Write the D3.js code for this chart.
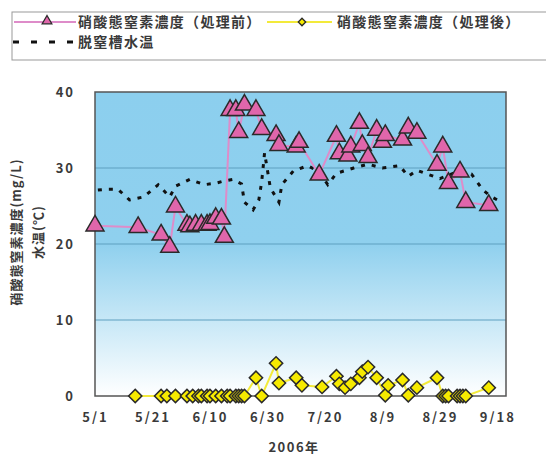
<!DOCTYPE html>
<html><head><meta charset="utf-8">
<script src="https://cdn.jsdelivr.net/npm/d3@7"></script>
<style>
body{margin:0;background:#fff}
svg{display:block}
text{font-family:"Noto Sans CJK JP","Noto Sans",sans-serif;fill:#3a3a3a;font-weight:700}
</style>
</head><body><svg id="c" width="546" height="457"></svg>
<script>
// ---- data ----
const seriesNames = ["硝酸態窒素濃度（処理前）", "硝酸態窒素濃度（処理後）", "脱窒槽水温"];
const beforeDates = ["5/1","5/16","5/24","5/27","5/29","6/2","6/3","6/5","6/7","6/9","6/10","6/12","6/14","6/15","6/17","6/19","6/20","6/22","6/26","6/28","7/3","7/4","7/10","7/11","7/18","7/24","7/25","7/28","7/29","8/1","8/2","8/4","8/7","8/9","8/10","8/16","8/18","8/21","8/28","8/30","9/1","9/5","9/7","9/15"];
const beforeValues = [22.4,22.2,21.2,19.6,24.9,22.5,22.3,22.5,22.5,22.5,22.6,23.4,23.3,20.9,37.6,37.6,34.7,38.3,37.6,35.1,34.3,33.0,32.8,33.4,29.1,34.2,31.9,31.6,32.8,35.9,33.0,31.4,35.0,33.4,34.3,33.7,35.3,34.6,30.4,32.8,28.0,29.5,25.5,25.1];
const afterDates = ["5/15","5/24","5/26","5/29","6/2","6/4","6/6","6/7","6/9","6/10","6/12","6/14","6/16","6/17","6/19","6/20","6/21","6/22","6/26","6/28","7/3","7/4","7/10","7/12","7/19","7/24","7/25","7/27","7/29","8/1","8/2","8/4","8/7","8/10","8/11","8/16","8/18","8/21","8/28","8/30","8/31","9/1","9/4","9/5","9/6","9/7","9/15"];
const afterValues = [0,0,0,0,0,0,0,0,0,0,0,0,0,0,0,0,0,0,2.4,0,4.3,1.7,2.4,1.4,1.2,2.6,1.6,1.1,1.6,2.4,3.2,3.8,2.4,0.1,1.4,2.1,0.1,1.1,2.4,0,0,0,0,0,0,0,1.1];
const tempDates = ["5/2","5/5","5/9","5/13","5/18","5/23","5/27","5/29","6/3","6/8","6/12","6/15","6/18","6/21","6/22","6/25","6/27","6/28","6/29","6/30","7/1","7/4","7/5","7/9","7/14","7/18","7/21","7/24","7/30","8/4","8/9","8/15","8/18","8/21","8/29","9/4","9/9","9/13","9/16","9/20"];
const tempValues = [27.1,27.2,27.2,25.8,26.2,27.8,26.2,27.6,28.5,27.8,28.0,28.3,28.5,27.9,25.5,24.5,25.8,28.2,32.0,29.7,27.4,25.5,27.8,29.6,30.3,29.5,27.8,29.3,30.0,30.5,30.0,30.3,28.9,29.7,28.6,29.5,29.2,27.1,26.2,25.4];
const xTickLabels = ["5/1","5/21","6/10","6/30","7/20","8/9","8/29","9/18"];
const xDomain = ["5/1","9/21"];
const yTicks = [0,10,20,30,40];
const yTitle = ["硝酸態窒素濃度(mg/L)", "水温(℃)"];
const xTitle = "2006年";

// ---- helpers ----
const parse = s => { const [m,d] = s.split("/").map(Number); return new Date(2006, m-1, d); };
const zip = (ds, vs) => ds.map((d,i) => ({date: parse(d), v: vs[i]}));
const before = zip(beforeDates, beforeValues);
const after = zip(afterDates, afterValues);
const temp = zip(tempDates, tempValues);

const svg = d3.select("#c");
const L = 95, R = 506, T = 92, B = 396;
const x = d3.scaleTime().domain(xDomain.map(parse)).range([L, R]);
const y = d3.scaleLinear().domain([0, 40]).range([B, T]);

// background gradient
const defs = svg.append("defs");
const g = defs.append("linearGradient").attr("id","bg").attr("x1",0).attr("y1",0).attr("x2",0).attr("y2",1);
g.append("stop").attr("offset","0").attr("stop-color","#8ccfee");
g.append("stop").attr("offset","0.5").attr("stop-color","#8fd0ee");
g.append("stop").attr("offset","1").attr("stop-color","#ffffff");
svg.append("rect").attr("x",L).attr("y",T).attr("width",R-L).attr("height",B-T).attr("fill","url(#bg)");

// gridlines
svg.append("g").selectAll("line").data(yTicks.filter(t => t>0 && t<40)).join("line")
  .attr("x1",L).attr("x2",R).attr("y1",d=>y(d)).attr("y2",d=>y(d))
  .attr("stroke","#5f9fc0").attr("stroke-width",1.2);

// plot border
svg.append("rect").attr("x",L).attr("y",T).attr("width",R-L).attr("height",B-T)
  .attr("fill","none").attr("stroke","#555").attr("stroke-width",1.5);

// axes
const yAxis = svg.append("g").attr("transform",`translate(${L},0)`)
  .call(d3.axisLeft(y).tickValues(yTicks).tickSize(0).tickPadding(20).tickFormat(d3.format("d")));
yAxis.select(".domain").remove();
yAxis.selectAll("text").attr("font-size",13).attr("letter-spacing","2px").style("font-family","'Noto Sans CJK JP',sans-serif");

const xAxis = svg.append("g").attr("transform",`translate(0,${B})`)
  .call(d3.axisBottom(x).tickValues(xTickLabels.map(parse)).tickSize(0).tickPadding(17)
    .tickFormat((d,i) => xTickLabels[i]));
xAxis.select(".domain").remove();
xAxis.selectAll("text").attr("font-size",13).attr("letter-spacing","2px").style("font-family","'Noto Sans CJK JP',sans-serif");

// titles
svg.append("text").attr("transform",`translate(21,232) rotate(-90)`).attr("text-anchor","middle")
  .attr("font-size",13).attr("letter-spacing","1px").text(yTitle[0]);
svg.append("text").attr("transform",`translate(43,232) rotate(-90)`).attr("text-anchor","middle")
  .attr("font-size",13).attr("letter-spacing","1px").text(yTitle[1]);
svg.append("text").attr("x",294).attr("y",452).attr("text-anchor","middle")
  .attr("font-size",13).attr("letter-spacing","1.5px").text(xTitle);

// temperature dashed line
const line = d3.line().x(d=>x(d.date)).y(d=>y(d.v));
svg.append("path").datum(temp).attr("d",line).attr("fill","none")
  .attr("stroke","#111").attr("stroke-width",3).attr("stroke-dasharray","4,7");

// after series
svg.append("path").datum(after).attr("d",line).attr("fill","none")
  .attr("stroke","#f3ea3a").attr("stroke-width",2);
const diamond = d3.symbol().type(d3.symbolSquare).size(88);
svg.append("g").selectAll("path").data(after).join("path")
  .attr("d",diamond())
  .attr("transform",d=>`translate(${x(d.date)},${y(d.v)}) rotate(45)`)
  .attr("fill","#f6ea00").attr("stroke","#2a2a2a").attr("stroke-width",1.5);

// before series
svg.append("path").datum(before).attr("d",line).attr("fill","none")
  .attr("stroke","#de8cc9").attr("stroke-width",2);
const tri = d3.symbol().type(d3.symbolTriangle).size(140);
svg.append("g").selectAll("path").data(before).join("path")
  .attr("d",tri())
  .attr("transform",d=>`translate(${x(d.date)},${y(d.v)})`)
  .attr("fill","#e066ab").attr("stroke","#2a2a2a").attr("stroke-width",1.5);

// legend
const lg = svg.append("g");
lg.append("rect").attr("x",12).attr("y",12).attr("width",600).attr("height",48)
  .attr("fill","#fff").attr("stroke","#999").attr("stroke-width",1);
lg.append("line").attr("x1",14).attr("x2",76).attr("y1",22).attr("y2",22).attr("stroke","#de8cc9").attr("stroke-width",2);
lg.append("path").attr("d",d3.symbol().type(d3.symbolTriangle).size(40)()).attr("transform","translate(47,21)")
  .attr("fill","#e066ab").attr("stroke","#2a2a2a").attr("stroke-width",1.3);
lg.append("text").attr("x",78).attr("y",27).attr("font-size",14).attr("letter-spacing","1.3px").text(seriesNames[0]);
lg.append("line").attr("x1",267).attr("x2",332).attr("y1",22).attr("y2",22).attr("stroke","#f3ea3a").attr("stroke-width",2);
lg.append("path").attr("d",d3.symbol().type(d3.symbolSquare).size(28)()).attr("transform","translate(302,22) rotate(45)")
  .attr("fill","#f6ea00").attr("stroke","#2a2a2a").attr("stroke-width",1.3);
lg.append("text").attr("x",337).attr("y",27).attr("font-size",14).attr("letter-spacing","1.3px").text(seriesNames[1]);
lg.append("line").attr("x1",13).attr("x2",76).attr("y1",42).attr("y2",42).attr("stroke","#111")
  .attr("stroke-width",3).attr("stroke-dasharray","6,12");
lg.append("text").attr("x",78).attr("y",47).attr("font-size",14).attr("letter-spacing","1.3px").text(seriesNames[2]);
</script>
</body></html>
